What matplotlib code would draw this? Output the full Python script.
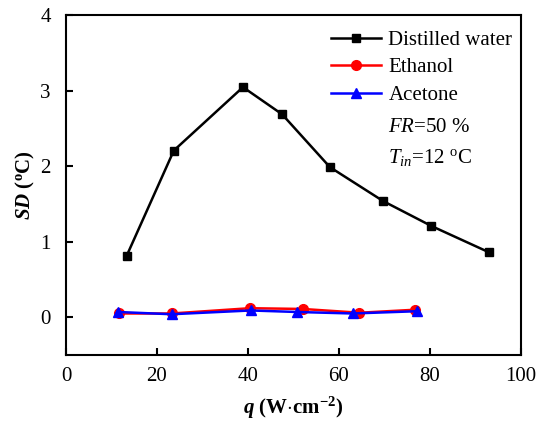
import matplotlib
matplotlib.use("Agg")
import matplotlib.pyplot as plt

plt.rcParams['font.family'] = ['Liberation Serif', 'DejaVu Serif']
plt.rcParams['mathtext.fontset'] = 'custom'
plt.rcParams['mathtext.rm'] = 'Liberation Serif'
plt.rcParams['mathtext.it'] = 'Liberation Serif:italic'
plt.rcParams['mathtext.bf'] = 'Liberation Serif:bold'
plt.rcParams['mathtext.bfit'] = 'Liberation Serif:italic:bold'

# data
q_water = [13.3, 23.7, 38.9, 47.5, 58.0, 69.7, 80.3, 93.0]
sd_water = [0.81, 2.21, 3.05, 2.69, 1.99, 1.54, 1.21, 0.86]
q_eth = [11.7, 23.2, 40.4, 52.0, 64.5, 76.8]
sd_eth = [0.05, 0.05, 0.12, 0.11, 0.06, 0.10]
q_ace = [11.4, 23.2, 40.6, 50.7, 63.0, 77.1]
sd_ace = [0.07, 0.04, 0.09, 0.07, 0.05, 0.08]

fig = plt.figure(figsize=(5.37, 4.23), dpi=100)
ax = fig.add_axes([0.1229, 0.1608, 0.8473, 0.8026])

ax.plot(q_water, sd_water, color='black', lw=1.8, marker='s', ms=6, label='Distilled water')
ax.plot(q_eth, sd_eth, color='red', lw=1.8, marker='o', ms=7, label='Ethanol')
ax.plot(q_ace, sd_ace, color='blue', lw=1.8, marker='^', ms=7, label='Acetone')

ax.set_xlim(0, 100)
ax.set_ylim(-0.5, 4)
ax.set_xticks([0, 20, 40, 60, 80, 100])
ax.set_yticks([0, 1, 2, 3, 4])
ax.tick_params(direction='in', length=5, width=1.5, labelsize=15)
ax.tick_params(axis='x', pad=9)
ax.tick_params(axis='y', pad=11)
for s in ax.spines.values():
    s.set_linewidth(1.5)

ax.set_xlabel(r'$\mathbfit{q}$ $\mathbf{(W{\cdot}cm^{-2})}$', fontsize=15, labelpad=6)
ax.set_ylabel(r'$\mathbfit{SD}$ $\mathbf{(^{o}C)}$', fontsize=15, labelpad=2)

ax.legend(loc='upper right', frameon=False, fontsize=15, handlelength=2.4,
          handletextpad=0.35, labelspacing=0.38, borderaxespad=0.1,
          bbox_to_anchor=(1.004, 0.987))

fig.text(388 / 537, 1 - 127 / 423, r'$\mathit{FR}$=50 %', fontsize=15, va='center')
fig.text(388 / 537, 1 - 157 / 423, r'$\mathit{T}_{\mathit{in}}$=12 $^{\mathrm{o}}$C', fontsize=15, va='center')

fig.savefig('out.png', dpi=100)
